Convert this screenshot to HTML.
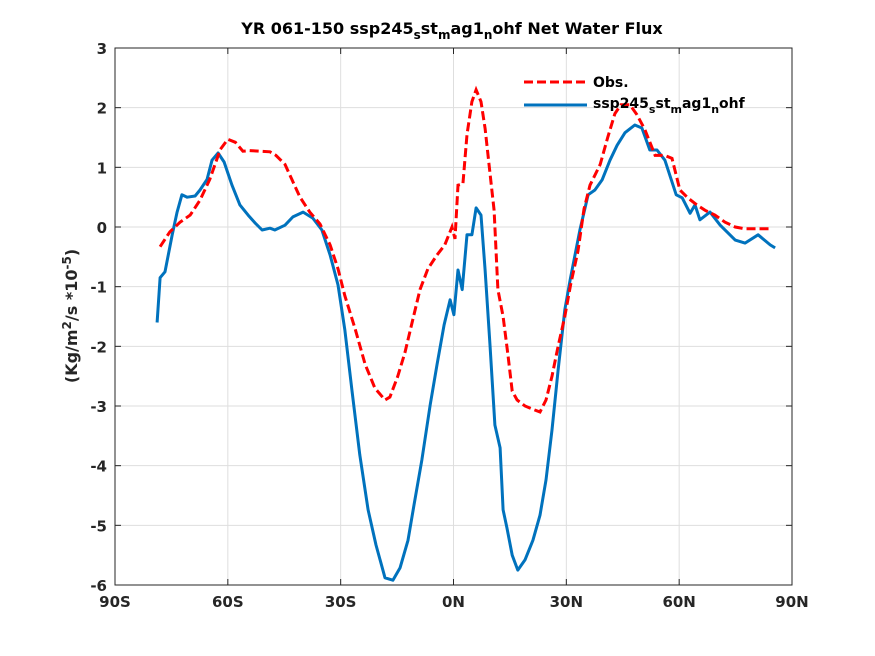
<!DOCTYPE html>
<html><head><meta charset="utf-8"><style>
body{margin:0;background:#fff;}
svg{display:block;font-family:"DejaVu Sans","Liberation Sans",sans-serif;}
</style></head><body>
<svg id="chart" width="875" height="656" viewBox="0 0 875 656" xmlns="http://www.w3.org/2000/svg">
<rect width="875" height="656" fill="#fff"/>
<g id="grid"></g>
<rect x="115" y="48" width="677" height="537" fill="none" stroke="#262626" stroke-width="1"/>
<g id="ticks"></g>
<g id="series"></g>
<text x="452" y="34" text-anchor="middle" font-size="16" font-weight="bold" fill="#000">YR 061-150 ssp245<tspan font-size="12" dy="5">s</tspan><tspan dy="-5">st</tspan><tspan font-size="12" dy="5">m</tspan><tspan dy="-5">ag1</tspan><tspan font-size="12" dy="5">n</tspan><tspan dy="-5">ohf  Net Water Flux</tspan></text>
<text transform="translate(77,316) rotate(-90)" text-anchor="middle" font-size="16" font-weight="bold" fill="#262626">(Kg/m<tspan font-size="12" dy="-6">2</tspan><tspan dy="6">/s *10</tspan><tspan font-size="12" dy="-6">-5</tspan><tspan dy="6">)</tspan></text>
<g>
<line x1="524" y1="82" x2="587" y2="82" stroke="#ff0000" stroke-width="3" stroke-dasharray="9,4"/>
<text x="593" y="87" font-size="14" font-weight="bold">Obs.</text>
<line x1="524" y1="105" x2="587" y2="105" stroke="#0072bd" stroke-width="3"/>
<text x="593" y="108" font-size="14" font-weight="bold">ssp245<tspan font-size="11" dy="5">s</tspan><tspan dy="-5">st</tspan><tspan font-size="11" dy="5">m</tspan><tspan dy="-5">ag1</tspan><tspan font-size="11" dy="5">n</tspan><tspan dy="-5">ohf</tspan></text>
</g>
</svg>
<script>
const xTicks=[-90,-60,-30,0,30,60,90];
const xTickLabels=["90S","60S","30S","0N","30N","60N","90N"];
const yTicks=[-6,-5,-4,-3,-2,-1,0,1,2,3];
const obsLat=[-78,-75.4,-72.7,-70,-67.4,-64.8,-62,-60,-58,-56,-54.2,-51.4,-48.8,-47.2,-44.8,-43,-40.8,-38.2,-35.5,-32.8,-30.7,-28.9,-26.2,-23.5,-20.9,-18.2,-16.9,-14.8,-12.9,-11,-8.9,-6.8,-4.4,-2.3,-0.4,0.4,1.2,2.5,3.6,4.9,6,7.3,8.4,9.7,10.8,11.8,13.2,14.5,15.6,16.9,19,20.9,23,24.6,26.2,27.8,29.6,31.2,33.1,34.7,36.3,39,41,42.9,44.5,46.9,48.8,50.9,53.6,56.2,58.1,60.2,62.3,64.7,66.9,69.5,72.2,74.9,77.5,84.7];
const obsVal=[-0.33,-0.08,0.08,0.2,0.45,0.8,1.3,1.47,1.42,1.27,1.28,1.27,1.26,1.2,1.05,0.8,0.5,0.25,0.05,-0.3,-0.7,-1.15,-1.7,-2.3,-2.7,-2.9,-2.85,-2.5,-2.1,-1.6,-1.05,-0.7,-0.47,-0.3,0,-0.2,0.7,0.72,1.55,2.1,2.3,2.1,1.65,0.9,0.28,-1.05,-1.5,-2.15,-2.75,-2.9,-3,-3.05,-3.1,-2.9,-2.5,-2.0,-1.5,-0.95,-0.4,0.3,0.7,1.05,1.5,1.9,2.05,2.05,1.88,1.63,1.2,1.2,1.15,0.62,0.49,0.37,0.28,0.2,0.08,0,-0.03,-0.03];
const modLat=[-78.8,-78,-76.7,-74.8,-73.5,-72.2,-70.8,-68.7,-67.4,-65.5,-64.2,-62.6,-61,-58.9,-56.8,-54.6,-52.8,-50.9,-48.8,-47.5,-44.8,-42.7,-40,-37.4,-35,-32.8,-30.7,-28.9,-27,-24.9,-22.7,-20.6,-18.2,-16.1,-14.2,-12.1,-10.5,-8.4,-6.2,-4.4,-2.5,-0.9,0.1,1.2,2.3,3.6,4.9,6,7.3,8.4,9.7,11,12.4,13.2,14.2,15.6,17.1,19,21.1,23,24.6,26.2,27.8,29.6,31,32.3,33.6,35.8,37.6,39.5,41.6,43.5,45.6,48.2,50.1,52.2,54.1,56.2,59.2,60.8,62.9,64.2,65.5,68.2,70.9,74.9,77.5,81,84.2,85.5];
const modVal=[-1.6,-0.85,-0.75,-0.13,0.25,0.54,0.5,0.52,0.62,0.8,1.12,1.24,1.09,0.7,0.37,0.2,0.07,-0.05,-0.02,-0.05,0.03,0.17,0.25,0.15,-0.05,-0.47,-0.97,-1.72,-2.73,-3.82,-4.74,-5.33,-5.88,-5.92,-5.71,-5.25,-4.66,-3.9,-2.98,-2.31,-1.64,-1.22,-1.47,-0.72,-1.05,-0.13,-0.13,0.32,0.2,-0.72,-1.98,-3.32,-3.7,-4.74,-5.04,-5.5,-5.75,-5.58,-5.25,-4.83,-4.24,-3.4,-2.4,-1.39,-0.89,-0.47,-0.05,0.54,0.62,0.79,1.12,1.37,1.58,1.71,1.66,1.29,1.29,1.12,0.54,0.49,0.23,0.37,0.12,0.25,0.03,-0.22,-0.27,-0.13,-0.3,-0.35];
const X0=115,X1=792,Y0=585,Y1=48;
function xs(v){return X0+(v+90)/180*(X1-X0);}
function ys(v){return Y0-(v+6)/9*(Y0-Y1);}
const NS="http://www.w3.org/2000/svg";
const grid=document.getElementById('grid'),ticks=document.getElementById('ticks'),series=document.getElementById('series');
function mk(t,a,p){const e=document.createElementNS(NS,t);for(const k in a)e.setAttribute(k,a[k]);p.appendChild(e);return e;}
xTicks.forEach((t,i)=>{const x=xs(t);
 const g=mk('line',{x1:x,x2:x,y1:Y1,y2:Y0,stroke:'#dedede','stroke-width':1},grid);
 
 
 const tk=mk('line',{x1:x,x2:x,y1:Y0,y2:Y0-6,stroke:'#262626'},ticks);
 
 
 const tk2=mk('line',{x1:x,x2:x,y1:Y1,y2:Y1+6,stroke:'#262626'},ticks);
 
 
 const l=mk('text',{x:x,y:Y0+22,'text-anchor':'middle','font-size':15,'font-weight':'bold',fill:'#262626'},ticks);
 l.textContent=xTickLabels[i];
 
 
});
yTicks.forEach(t=>{const y=ys(t);
 const g=mk('line',{x1:X0,x2:X1,y1:y,y2:y,stroke:'#dedede','stroke-width':1},grid);
 
 
 const tk=mk('line',{x1:X0,x2:X0+6,y1:y,y2:y,stroke:'#262626'},ticks);
 
 
 const tk2=mk('line',{x1:X1,x2:X1-6,y1:y,y2:y,stroke:'#262626'},ticks);
 
 
 const l=mk('text',{x:X0-8,y:y+6,'text-anchor':'end','font-size':15,'font-weight':'bold',fill:'#262626'},ticks);
 l.textContent=String(t);
 
 
});
function pts(la,va){return la.map((l,i)=>xs(l).toFixed(1)+','+ys(va[i]).toFixed(1)).join(' ');}
const m=mk('polyline',{points:pts(modLat,modVal),fill:'none',stroke:'#0072bd','stroke-width':3,'stroke-linejoin':'round'},series);


const o=mk('polyline',{points:pts(obsLat,obsVal),fill:'none',stroke:'#ff0000','stroke-width':3,'stroke-dasharray':'9,4'},series);


</script>
</body></html>
